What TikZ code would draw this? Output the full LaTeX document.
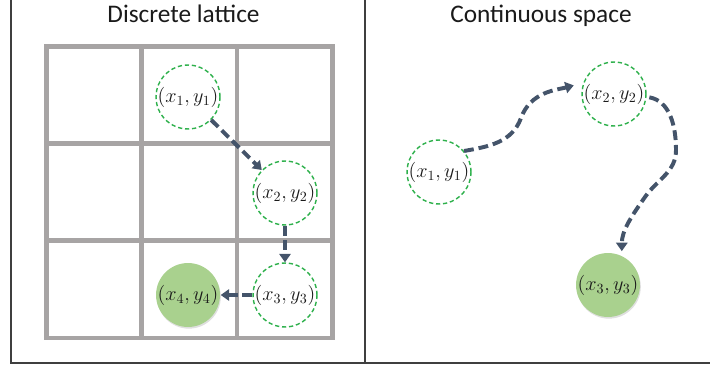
\documentclass[tikz,border=0pt]{standalone}
\usepackage[no-math]{fontspec}
\newfontfamily\titlefont{Carlito}
\usetikzlibrary{arrows.meta,shadows}
\definecolor{ink}{HTML}{1A1A1A}
\definecolor{rule}{HTML}{3F3F3F}
\definecolor{lattice}{HTML}{A7A4A4}
\definecolor{slate}{HTML}{44546A}
\definecolor{leaf}{HTML}{2DB04B}
\definecolor{moss}{HTML}{A9D18E}

\begin{document}
\begin{tikzpicture}[
    line width=1pt, >={Triangle[length=6pt,width=8pt]},
    color=ink,
    title/.style={font=\titlefont\fontsize{18}{21}\selectfont, text=ink, anchor=base},
    state/.style={circle, minimum size=1.55cm, inner sep=0pt, font=\fontsize{14}{16}\selectfont, text=ink},
    open/.style={state, draw=leaf, line width=1pt, dash pattern=on 3pt off 2pt, fill=white},
    goal/.style={state, fill=moss, drop shadow={opacity=0.25, shadow xshift=0.6pt, shadow yshift=-1.2pt}},
    move/.style={->, draw=slate, line width=2.8pt, dash pattern=on 7pt off 3.5pt}]
  % fixed 710 x 367 px canvas (1 px = 0.025 cm)
  \path[use as bounding box] (0,0) rectangle (17.75,9.175);

  % ================= frame =================
  \draw[rule, line width=0.8pt] (0.275,9.175) -- (0.275,0.1) -- (17.75,0.1)
        (9.125,0.1) -- (9.125,9.175);

  % ================= 1) discrete lattice =================
  \node[title] (lattitle) at (4.5875,8.6) {Discrete lattice};
  \foreach \i in {0,...,3}
    \draw[lattice, line width=3.5pt, line cap=rect] (1.165+2.38*\i,0.725) -- ++(0,7.29);
  \foreach \j in {0,...,3}
    \draw[lattice, line width=3.5pt, line cap=rect] (1.165,0.725+2.43*\j) -- ++(7.14,0);
  \node[open] (p1) at (4.7,6.75) {$(x_1,y_1)$};
  \node[open] (p2) at (7.125,4.35) {$(x_2,y_2)$};
  \node[open] (p3) at (7.125,1.8) {$(x_3,y_3)$};
  \node[goal] (p4) at (4.7,1.8) {$(x_4,y_4)$};
  \draw[move] (p1) -- (p2);
  \draw[move] (p2) -- (p3);
  \draw[move] (p3) -- (p4);

  % ================= 2) continuous space =================
  \node[title] (contitle) at (13.525,8.6) {Continuous space};
  \node[open] (q1) at (10.975,4.875) {$(x_1,y_1)$};
  \node[open] (q2) at (15.35,6.825) {$(x_2,y_2)$};
  \node[goal] (q3) at (15.2,2.05) {$(x_3,y_3)$};
  \coordinate (k1) at (13.025,6.225);
  \coordinate (k2) at (16.9,5.425);
  \coordinate (k3) at (16.125,4.25);
  \draw[move, shorten >=7pt] (q1.40) to[out=10,in=250] (k1) to[out=70,in=195] (q2.160);
  \draw[move, shorten <=2pt, shorten >=3pt]
    (q2.-5) to[out=-10,in=90] (k2) to[out=-90,in=55] (k3) to[out=235,in=90] (q3.65);
\end{tikzpicture}
\end{document}
